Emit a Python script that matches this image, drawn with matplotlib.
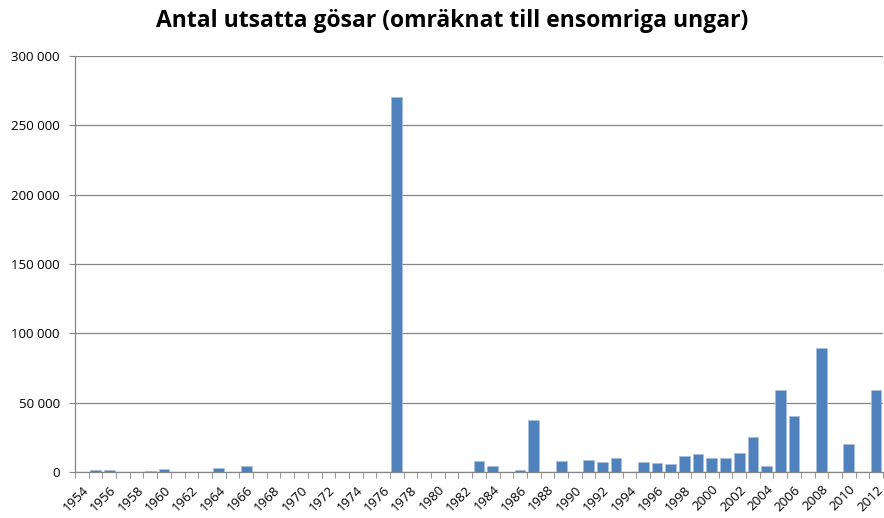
import numpy as np
import matplotlib.pyplot as plt
from matplotlib.ticker import FuncFormatter

years = list(range(1954, 2013))
values = {
    1955: 1200, 1956: 1200, 1959: 1000, 1960: 2000, 1964: 2700, 1966: 4600,
    1977: 270400, 1983: 8200, 1984: 4000, 1986: 1500, 1987: 37500,
    1989: 7600, 1991: 8900, 1992: 7400, 1993: 9900, 1995: 7400, 1996: 6700,
    1997: 5800, 1998: 11800, 1999: 12700, 2000: 10100, 2001: 10100,
    2002: 13400, 2003: 25000, 2004: 4300, 2005: 59200, 2006: 40100,
    2008: 89500, 2010: 20200, 2012: 59200,
}
counts = [values.get(y, 0) for y in years]

plt.rcParams['font.family'] = ['Open Sans', 'DejaVu Sans']

fig = plt.figure(figsize=(8.84, 5.18), dpi=100)
ax = fig.add_axes([75 / 884, 46 / 518, 808 / 884, 416 / 518])

x = np.arange(len(years))
ax.bar(x, counts, width=0.78, color='#4F81BD', edgecolor='#A7C0DE', linewidth=0.6, zorder=3)

ax.set_xlim(-0.5, len(years) - 0.5)
ax.set_ylim(0, 300000)
ax.set_yticks(np.arange(0, 300001, 50000))
ax.yaxis.set_major_formatter(FuncFormatter(lambda v, p: f"{int(v):,}".replace(",", " ")))
ax.grid(axis='y', color='#868686', linewidth=0.9, zorder=0)

ax.set_xticks(x[::2])
ax.set_xticklabels([str(y) for y in years[::2]], rotation=45, ha='right', rotation_mode='anchor')
ax.set_xticks(np.arange(-0.5, len(years), 1), minor=True)
ax.tick_params(axis='x', which='major', length=0, pad=8, labelsize=9.5)
ax.tick_params(axis='x', which='minor', length=4, color='#868686', direction='out')
ax.tick_params(axis='y', length=4, color='#868686', labelsize=9.5, pad=7)

for s in ['top', 'right']:
    ax.spines[s].set_visible(False)
for s in ['left', 'bottom']:
    ax.spines[s].set_color('#868686')
    ax.spines[s].set_linewidth(0.9)
ax.spines['bottom'].set_zorder(4)

fig.text(0.512, 0.96, 'Antal utsatta gösar (omräknat till ensomriga ungar)',
         ha='center', va='center', fontsize=16.5, fontweight='bold')

fig.savefig('out.png', dpi=100)
